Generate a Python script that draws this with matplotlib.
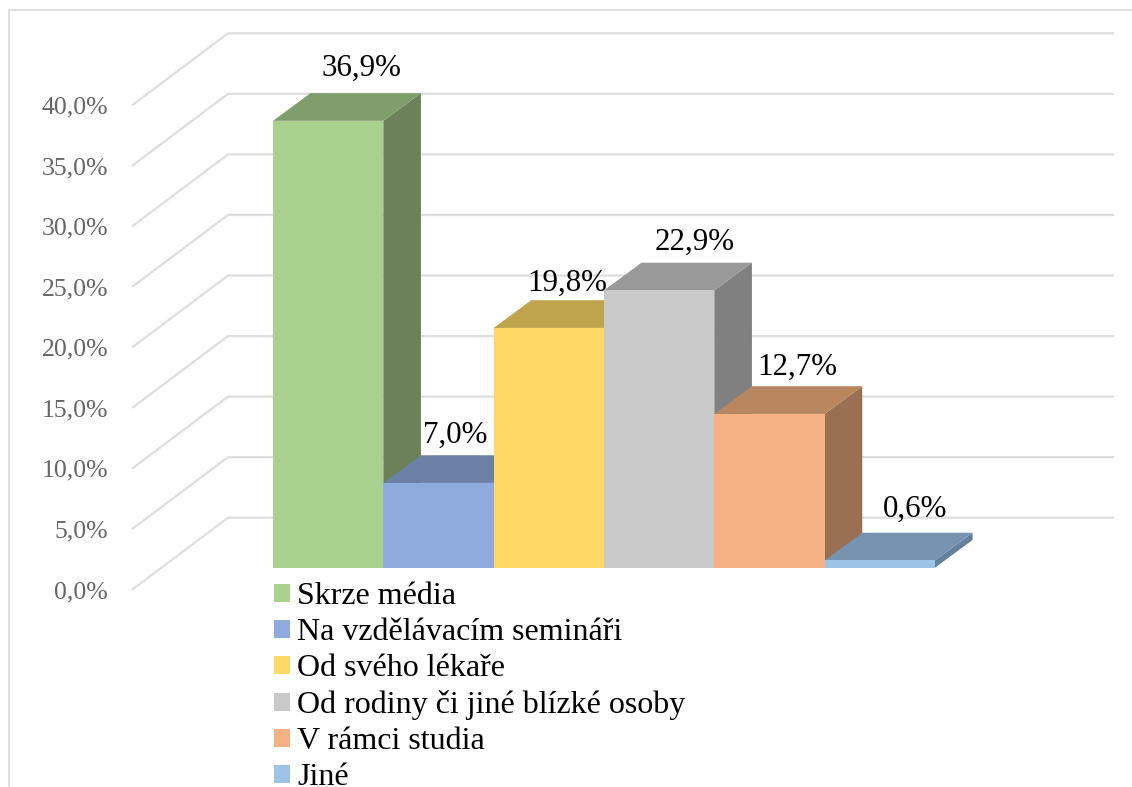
import matplotlib
matplotlib.use("Agg")
import matplotlib.pyplot as plt
from matplotlib.lines import Line2D
from matplotlib.patches import Patch, Polygon

plt.rcParams['font.family'] = ['Liberation Serif', 'DejaVu Sans']

categories = ["Skrze média", "Na vzdělávacím semináři", "Od svého lékaře",
              "Od rodiny či jiné blízké osoby", "V rámci studia", "Jiné"]
values = [36.9, 7.0, 19.8, 22.9, 12.7, 0.6]
value_labels = ["36,9%", "7,0%", "19,8%", "22,9%", "12,7%", "0,6%"]
tick_values = [0, 5, 10, 15, 20, 25, 30, 35, 40]
tick_labels = ["0,0%", "5,0%", "10,0%", "15,0%", "20,0%", "25,0%", "30,0%", "35,0%", "40,0%"]

front_colors = ["#A9D18E", "#8FAADC", "#FFD966", "#C9C9C9", "#F4B183", "#9DC3E6"]
top_colors = ["#809E6B", "#6C80A6", "#BFA34D", "#999999", "#B8865F", "#7793B0"]
side_colors = ["#6B8258", "#596A8A", "#9E8740", "#808080", "#997051", "#64809C"]
label_dx = [33, 16.5, 18, 35, 27.5, 35]
label_dy = [52.5, 47.5, 44.5, 48.5, 46.5, 51.5]

W, H = 1132, 787
PX_CAT, PX_PCT = 110.33, 12.11
X0, Y0 = 273.0, 567.7
DEPTH_X = 37.6 / PX_CAT
DEPTH_Y = 27.7 / PX_PCT
FRONT_X, FRONT_Y = (133 - X0) / PX_CAT, (Y0 - 589.0) / PX_PCT
BACK_X, BACK_Y = (228 - X0) / PX_CAT, (Y0 - 517.7) / PX_PCT
RIGHT_X = (1113 - X0) / PX_CAT
GRID = "#DEDEDE"

fig = plt.figure(figsize=(W / 100, H / 100), dpi=100, facecolor="white")
ax = fig.add_axes([0, 0, 1, 1])
ax.set_xlim(-X0 / PX_CAT, (W - X0) / PX_CAT)
ax.set_ylim((Y0 - H) / PX_PCT, Y0 / PX_PCT)
ax.axis("off")

for t, lab in zip(tick_values, tick_labels):
    ax.plot([FRONT_X, BACK_X, RIGHT_X], [FRONT_Y + t, BACK_Y + t, BACK_Y + t],
            color=GRID, lw=1.6, zorder=1, solid_joinstyle="miter")
    ax.annotate(lab, (FRONT_X, FRONT_Y + t), xytext=(-25, -3), textcoords="offset pixels",
                ha="right", va="center", fontsize=18.5, color="#666666", zorder=5)

for i, v in enumerate(values):
    l, r = i, i + 1
    ax.add_patch(Polygon([(r, 0), (r + DEPTH_X, DEPTH_Y), (r + DEPTH_X, v + DEPTH_Y), (r, v)],
                         closed=True, fc=side_colors[i], ec="none", zorder=2 + i * 0.1))
    ax.add_patch(Polygon([(l, v), (l + DEPTH_X, v + DEPTH_Y), (r + DEPTH_X, v + DEPTH_Y), (r, v)],
                         closed=True, fc=top_colors[i], ec="none", zorder=2 + i * 0.1))
    ax.bar(l + 0.5, v, width=1.0, color=front_colors[i], linewidth=0, zorder=2.05 + i * 0.1)
    ax.annotate(value_labels[i], (l + 0.5, v), xytext=(label_dx[i], label_dy[i]),
                textcoords="offset pixels", ha="center", va="center",
                fontsize=22.3, color="black", zorder=6)

handles = [Patch(fc=c, ec="none") for c in front_colors]
fs = 23
ax.legend(handles, categories, loc="upper left",
          bbox_to_anchor=(274 / W, 1 - 582 / H), bbox_transform=fig.transFigure,
          frameon=False, fontsize=fs, borderpad=0, borderaxespad=0,
          handlelength=11.5 / fs, handleheight=11.5 / fs, handletextpad=5 / fs,
          labelspacing=0.22, labelcolor="black")

fig.add_artist(Line2D([9 / W, 9 / W, 1], [0, 1 - 10 / H, 1 - 10 / H],
                      transform=fig.transFigure, color="#DFDFDF", lw=1.5))

fig.savefig("out.png", dpi=100)
